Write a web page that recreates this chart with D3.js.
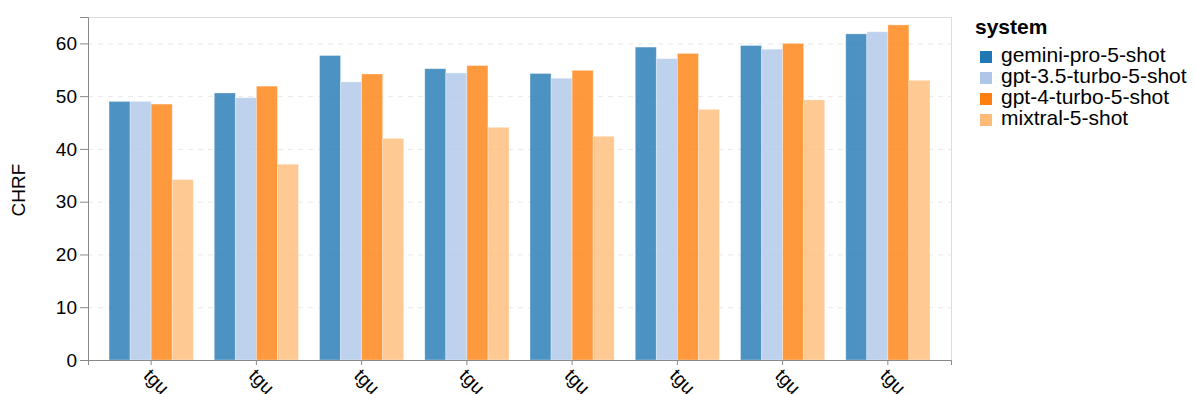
<!DOCTYPE html>
<html>
<head>
<meta charset="utf-8">
<script src="https://cdn.jsdelivr.net/npm/d3@7"></script>
<style>
  body { margin: 0; background: #fff; }
  svg text { font-family: "Liberation Sans", Arial, Helvetica, sans-serif; }
</style>
</head>
<body>
<script>
const groups = ['tgu', 'tgu', 'tgu', 'tgu', 'tgu', 'tgu', 'tgu', 'tgu']
const systems = ['gemini-pro-5-shot', 'gpt-3.5-turbo-5-shot', 'gpt-4-turbo-5-shot', 'mixtral-5-shot']
const geminiPro = [49.0, 50.6, 57.7, 55.2, 54.3, 59.3, 59.6, 61.8]
const gpt35 = [49.0, 49.7, 52.7, 54.4, 53.4, 57.1, 58.9, 62.2]
const gpt4 = [48.5, 51.9, 54.2, 55.8, 54.9, 58.1, 60.0, 63.5]
const mixtral = [34.2, 37.1, 42.0, 44.1, 42.4, 47.5, 49.3, 53.0]
const yTicks = [0, 10, 20, 30, 40, 50, 60]
const colors = ['#1f77b4', '#aec7e8', '#ff7f0e', '#ffbb78']

const seriesValues = [geminiPro, gpt35, gpt4, mixtral]

var width = 1196, height = 394
var margin = { top: 17, right: 245, bottom: 34, left: 88 }
var plotW = width - margin.left - margin.right
var plotH = height - margin.top - margin.bottom

var svg = d3.select('body')
    .append('svg')
    .attr('width', width)
    .attr('height', height)

var g = svg.append('g')
    .attr('transform', 'translate(' + margin.left + ',' + margin.top + ')')

var x0 = d3.scaleBand()
    .domain(d3.range(groups.length))
    .range([0, plotW])
    .paddingInner(0.2)
    .paddingOuter(0.2)

var x1 = d3.scaleBand()
    .domain(systems)
    .range([0, x0.bandwidth()])

var y = d3.scaleLinear()
    .domain([0, 65])
    .range([plotH, 0])

var color = d3.scaleOrdinal().domain(systems).range(colors)

// grid
g.append('g')
    .selectAll('line')
    .data(yTicks.filter(d => d > 0))
    .enter()
    .append('line')
    .attr('x1', 0)
    .attr('x2', plotW)
    .attr('y1', d => y(d) + 0.5)
    .attr('y2', d => y(d) + 0.5)
    .style('stroke', '#e8e8e8')
    .style('stroke-dasharray', '5,5')

// frame
g.append('rect')
    .attr('x', 0.5)
    .attr('y', 0.5)
    .attr('width', plotW)
    .attr('height', plotH)
    .style('fill', 'none')
    .style('stroke', '#dddddd')

// bars
var groupSel = g.selectAll('.grp')
    .data(groups.map((name, i) => i))
    .enter()
    .append('g')
    .attr('class', 'grp')
    .attr('transform', d => 'translate(' + x0(d) + ',0)')

groupSel.selectAll('rect')
    .data(i => systems.map((s, k) => ({ system: s, value: seriesValues[k][i] })))
    .enter()
    .append('rect')
    .attr('x', d => x1(d.system))
    .attr('y', d => y(d.value))
    .attr('width', x1.bandwidth())
    .attr('height', d => plotH - y(d.value))
    .style('fill', d => color(d.system))
    .style('fill-opacity', 0.8)
    .style('stroke', '#fff')
    .style('stroke-opacity', 0.4)
    .style('stroke-width', 0.8)

// y axis
var yAxis = g.append('g')
    .call(d3.axisLeft(y).tickValues(yTicks).tickSize(8).tickPadding(3))
yAxis.select('.domain').style('stroke', '#888')
yAxis.selectAll('.tick line').style('stroke', '#888')
yAxis.selectAll('.tick text').style('font-size', '19px').style('fill', '#000')

// x axis
var xAxis = g.append('g')
    .attr('transform', 'translate(0,' + plotH + ')')
    .call(d3.axisBottom(x0).tickSize(5).tickFormat(i => groups[i]))
xAxis.select('.domain').style('stroke', '#888')
xAxis.selectAll('.tick line').style('stroke', '#888')
xAxis.selectAll('.tick text')
    .style('font-size', '19px')
    .style('fill', '#000')
    .attr('text-anchor', 'start')
    .attr('dy', '0.35em')
    .attr('y', 0)
    .attr('transform', 'translate(-4,12) rotate(45)')

// y title
svg.append('text')
    .attr('transform', 'translate(25,190) rotate(-90)')
    .attr('text-anchor', 'middle')
    .style('font-size', '19px')
    .text('CHRF')

// legend
var legend = svg.append('g')
    .attr('transform', 'translate(975,0)')

legend.append('text')
    .attr('x', 0)
    .attr('y', 34)
    .style('font-size', '21px')
    .style('font-weight', 'bold')
    .text('system')

var items = legend.selectAll('.legend-item')
    .data(systems)
    .enter()
    .append('g')
    .attr('class', 'legend-item')
    .attr('transform', (d, i) => 'translate(0,' + (56 + i * 21) + ')')

items.append('rect')
    .attr('x', 5)
    .attr('y', -5)
    .attr('width', 12)
    .attr('height', 12)
    .style('fill', d => color(d))

items.append('text')
    .attr('x', 26)
    .attr('y', 6)
    .style('font-size', '21px')
    .text(d => d)
</script>
</body>
</html>
